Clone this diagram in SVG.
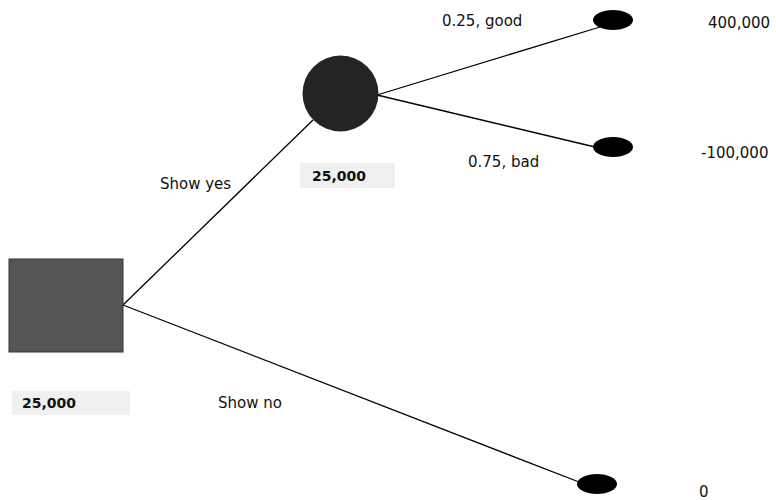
<svg xmlns="http://www.w3.org/2000/svg" width="776" height="500" viewBox="0 0 776 500">
<style>
text{font-family:"DejaVu Sans","Liberation Sans",sans-serif;font-size:15px;fill:#111}
.val{font-weight:bold;font-size:14px}
.conn line{stroke:#000;stroke-width:1.3}
.leaf{fill:#000}
.bg{fill:#d9d9d9;opacity:0.4}
</style>
<rect width="776" height="500" fill="#fff"/>
<g class="conn" id="connectors">
<line x1="123" y1="305" x2="313" y2="120"/>
<line x1="123" y1="305" x2="579" y2="482"/>
<line x1="377" y1="95" x2="600" y2="27"/>
<line x1="377" y1="95" x2="595" y2="147"/>
</g>
<g id="decision">
<rect x="9" y="259" width="114" height="93" fill="#555" stroke="#333" stroke-width="1"/>
<rect class="bg" x="12" y="391" width="118" height="24"/>
<text class="val" x="22" y="408">25,000</text>
</g>
<g id="chance">
<circle cx="340.5" cy="93.5" r="38" fill="#242424"/>
<rect class="bg" x="300" y="163" width="95" height="25"/>
<text class="val" x="312" y="181">25,000</text>
</g>
<g id="good"><ellipse class="leaf" cx="613" cy="20" rx="20" ry="10"/><text x="708" y="28">400,000</text></g>
<g id="bad"><ellipse class="leaf" cx="613" cy="147" rx="20" ry="10"/><text x="701" y="158">-100,000</text></g>
<g id="no"><ellipse class="leaf" cx="597" cy="484" rx="20" ry="10"/><text x="699" y="497">0</text></g>
<g id="labels">
<text x="442" y="26">0.25, good</text>
<text x="468" y="167">0.75, bad</text>
<text x="160" y="189">Show yes</text>
<text x="218" y="408">Show no</text>
</g>
</svg>
